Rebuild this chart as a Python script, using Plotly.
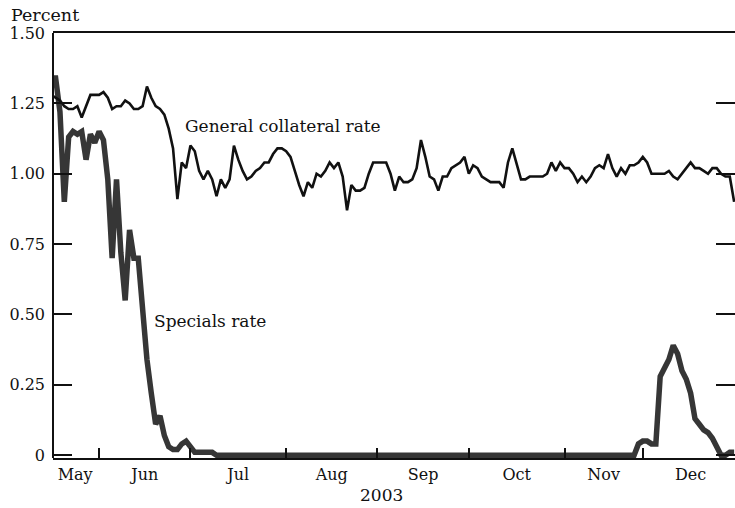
import numpy as np
import pandas as pd
import plotly.graph_objects as go

# ---- calendar: bond-market business days, mid-May to end of 2003 ----
holidays = ["2003-05-26", "2003-07-04", "2003-09-01", "2003-10-13",
            "2003-11-11", "2003-11-27", "2003-12-25"]
dates = pd.bdate_range("2003-05-15", "2003-12-31", freq="C", holidays=holidays)

# ---- General collateral rate (percent), by month ----
gc_may = [1.28, 1.27, 1.26, 1.24, 1.23, 1.23, 1.24, 1.20, 1.24, 1.28, 1.28]
gc_jun = [1.28, 1.29, 1.27, 1.23, 1.24, 1.24, 1.26, 1.25, 1.23, 1.23, 1.24,
          1.31, 1.27, 1.24, 1.23, 1.21, 1.16, 1.09, 0.91, 1.04, 1.02]
gc_jul = [1.10, 1.08, 1.01, 0.98, 1.01, 0.98, 0.92, 0.98, 0.95, 0.98, 1.10,
          1.05, 1.01, 0.98, 0.99, 1.01, 1.02, 1.04, 1.04, 1.07, 1.09, 1.09]
gc_aug = [1.08, 1.06, 1.01, 0.96, 0.92, 0.97, 0.95, 1.00, 0.99, 1.01, 1.04,
          1.02, 1.04, 0.99, 0.87, 0.96, 0.94, 0.94, 0.95, 1.00, 1.04]
gc_sep = [1.04, 1.04, 1.04, 1.00, 0.94, 0.99, 0.97, 0.97, 0.98, 1.02, 1.12,
          1.06, 0.99, 0.98, 0.94, 0.99, 0.99, 1.02, 1.03, 1.04, 1.06]
gc_oct = [1.00, 1.03, 1.02, 0.99, 0.98, 0.97, 0.97, 0.97, 0.95, 1.04, 1.09,
          1.03, 0.98, 0.98, 0.99, 0.99, 0.99, 0.99, 1.00, 1.04, 1.01, 1.04]
gc_nov = [1.02, 1.02, 1.00, 0.97, 0.99, 0.97, 0.99, 1.02, 1.03, 1.02, 1.07,
          1.02, 0.99, 1.02, 1.00, 1.03, 1.03, 1.04]
gc_dec = [1.06, 1.04, 1.00, 1.00, 1.00, 1.00, 1.01, 0.99, 0.98, 1.00, 1.02,
          1.04, 1.02, 1.02, 1.01, 1.00, 1.02, 1.02, 1.00, 0.99, 0.99, 0.90]

# ---- Specials rate (percent), by month ----
sp_may = [1.34, 1.34, 1.22, 0.90, 1.13, 1.15, 1.14, 1.15, 1.05, 1.14, 1.11]
sp_jun = [1.15, 1.12, 0.98, 0.70, 0.98, 0.72, 0.55, 0.80, 0.70, 0.70, 0.50,
          0.34, 0.22, 0.11, 0.14, 0.07, 0.03, 0.02, 0.02, 0.04, 0.05]
sp_jul = [0.03, 0.01, 0.01, 0.01, 0.01, 0.01, 0.00, 0.00, 0.00, 0.00, 0.00,
          0.00, 0.00, 0.00, 0.00, 0.00, 0.00, 0.00, 0.00, 0.00, 0.00, 0.00]
sp_aug = [0.00, 0.00, 0.00, 0.00, 0.00, 0.00, 0.00, 0.00, 0.00, 0.00, 0.00,
          0.00, 0.00, 0.00, 0.00, 0.00, 0.00, 0.00, 0.00, 0.00, 0.00]
sp_sep = [0.00, 0.00, 0.00, 0.00, 0.00, 0.00, 0.00, 0.00, 0.00, 0.00, 0.00,
          0.00, 0.00, 0.00, 0.00, 0.00, 0.00, 0.00, 0.00, 0.00, 0.00]
sp_oct = [0.00, 0.00, 0.00, 0.00, 0.00, 0.00, 0.00, 0.00, 0.00, 0.00, 0.00,
          0.00, 0.00, 0.00, 0.00, 0.00, 0.00, 0.00, 0.00, 0.00, 0.00, 0.00]
sp_nov = [0.00, 0.00, 0.00, 0.00, 0.00, 0.00, 0.00, 0.00, 0.00, 0.00, 0.00,
          0.00, 0.00, 0.00, 0.00, 0.00, 0.00, 0.04]
sp_dec = [0.05, 0.05, 0.04, 0.04, 0.28, 0.31, 0.34, 0.39, 0.36, 0.30, 0.27,
          0.22, 0.13, 0.11, 0.09, 0.08, 0.06, 0.03, 0.00, 0.00, 0.01, 0.01]

gc_rate = gc_may + gc_jun + gc_jul + gc_aug + gc_sep + gc_oct + gc_nov + gc_dec
specials = sp_may + sp_jun + sp_jul + sp_aug + sp_sep + sp_oct + sp_nov + sp_dec

month_names = ["May", "Jun", "Jul", "Aug", "Sep", "Oct", "Nov", "Dec"]
ytick_vals = [0, 0.25, 0.50, 0.75, 1.00, 1.25, 1.50]
ytick_text = ["0", "0.25", "0.50", "0.75", "1.00", "1.25", "1.50"]

# ---- positions on a business-day axis ----
x = np.arange(len(dates))
months = np.asarray(dates.month)
starts = [int(np.argmax(months == m)) for m in range(6, 13)]
bounds = [0] + starts + [len(dates)]
mids = [(bounds[i] + bounds[i + 1]) / 2 for i in range(len(bounds) - 1)]

FONT = "DejaVu Serif"
INK = "#111111"

fig = go.Figure()
fig.add_trace(go.Scatter(x=x, y=specials, mode="lines",
                         line=dict(color="#363636", width=5.5),
                         name="Specials rate", hoverinfo="skip"))
fig.add_trace(go.Scatter(x=x, y=gc_rate, mode="lines",
                         line=dict(color=INK, width=2.6),
                         name="General collateral rate", hoverinfo="skip"))

fig.update_layout(
    width=735, height=508,
    margin=dict(l=53, r=0, t=33, b=50),
    paper_bgcolor="white", plot_bgcolor="white",
    showlegend=False,
    font=dict(family=FONT, size=16, color=INK),
    xaxis=dict(
        range=[0.4, 157.2], showgrid=False, zeroline=False,
        showline=True, linecolor=INK, linewidth=2, mirror=True,
        tickmode="array", tickvals=mids, ticktext=month_names, ticks="",
        tickfont=dict(family=FONT, size=16, color=INK),
        ticklabelstandoff=1,
        minor=dict(tickmode="array", tickvals=starts, ticks="inside",
                   ticklen=10, tickwidth=2, tickcolor=INK, showgrid=False),
    ),
    yaxis=dict(
        range=[-0.01, 1.5], showgrid=False, zeroline=False,
        showline=False, mirror="ticks",
        tickmode="array", tickvals=ytick_vals, ticktext=ytick_text,
        ticks="inside", ticklen=19, tickwidth=2, tickcolor=INK,
        tickfont=dict(family=FONT, size=16, color=INK),
        ticklabelstandoff=7,
    ),
    shapes=[dict(type="line", xref="paper", yref="paper", x0=0, x1=0, y0=0, y1=1,
                 line=dict(color=INK, width=2))],
    annotations=[
        dict(text="Percent", xref="paper", yref="paper", x=-0.0645, y=1,
             xanchor="left", yanchor="middle", yshift=18, showarrow=False,
             font=dict(family=FONT, size=17.5, color=INK)),
        dict(text="General collateral rate", xref="x", yref="y", x=30.3, y=1.17,
             xanchor="left", yanchor="middle", showarrow=False,
             font=dict(family=FONT, size=17, color=INK)),
        dict(text="Specials rate", xref="x", yref="y", x=23.2, y=0.476,
             xanchor="left", yanchor="middle", showarrow=False,
             font=dict(family=FONT, size=17, color=INK)),
        dict(text="2003", xref="paper", yref="paper", x=0.482, y=0,
             xanchor="center", yanchor="middle", yshift=-37, showarrow=False,
             font=dict(family=FONT, size=17, color=INK)),
    ],
)

fig.write_html(
    "out.html",
    config={"displayModeBar": False},
    post_script="document.body.style.margin='0';document.body.style.overflow='hidden';",
)
